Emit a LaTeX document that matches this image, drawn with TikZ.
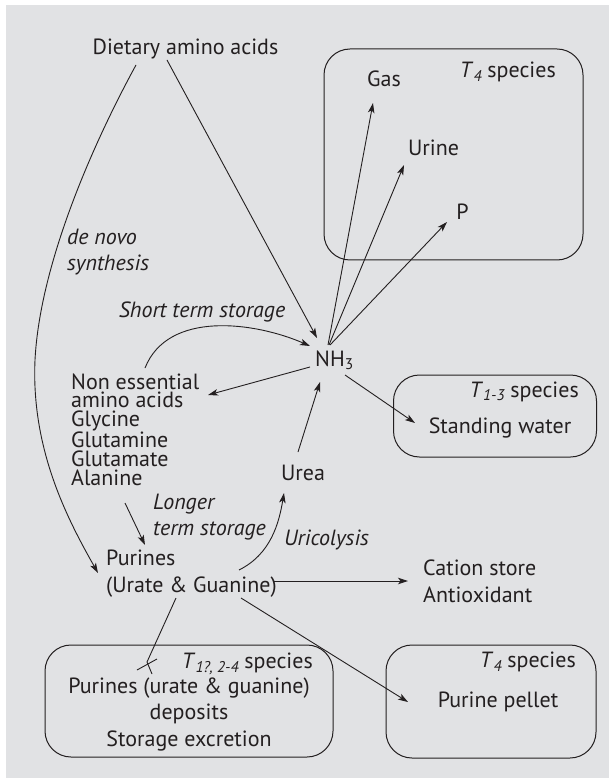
\documentclass[tikz,border=0pt]{standalone}
\usepackage{fontspec}
\setmainfont{PT Sans}
\usetikzlibrary{arrows.meta,calc}
\definecolor{bg}{RGB}{225,226,228}
\definecolor{ink}{RGB}{35,31,32}
\newcommand\Tsub[1]{\textit{T}\raisebox{-0.35ex}{\fontsize{15.5}{15.5}\selectfont\itshape #1}}
\newcommand\subthree{\raisebox{-0.35ex}{\fontsize{15.5}{15.5}\selectfont 3}}
\begin{document}
\begin{tikzpicture}[x=1pt,y=-1pt,
  every node/.style={inner sep=0pt, text=ink, font=\fontsize{22}{22}\selectfont},
  lbl/.style={font=\fontsize{22}{22}\selectfont\itshape},
  arr/.style={draw=ink, line width=0.9pt, -{Stealth[length=10pt,width=6.5pt,inset=2.5pt]}},
  ln/.style={draw=ink, line width=0.9pt},
  box/.style={draw=ink, line width=1pt, rounded corners=26pt},
]
\useasboundingbox (0,0) rectangle (614,783);
\fill[bg] (6,5) rectangle (609,778);

% boxes
\node[box, minimum width=259pt, minimum height=211pt] (boxA) at (453.5,154.5) {};
\node[box, minimum width=203pt, minimum height=82pt] (boxB) at (495,416) {};
\node[box, minimum width=288pt, minimum height=112pt] (boxC) at (189,701) {};
\node[box, minimum width=210pt, minimum height=113pt] (boxD) at (491,701.5) {};

% texts
\node[anchor=base] (diet) at (185.5,54.5) {Dietary amino acids};
\node[anchor=base] (gas) at (384,86.5) {Gas};
\node[anchor=base] (urine) at (433.5,155.5) {Urine};
\node[anchor=base] (pp) at (462.5,219.5) {P};
\node[anchor=base east] (t4a) at (556,77.5) {\Tsub{4} species};
\node[anchor=base west] (nh3) at (315,366) {NH\subthree};
\node[anchor=base, lbl] (short) at (202,317.5) {Short term storage};
\node[anchor=base west, lbl] (dn1) at (67,244.5) {de novo};
\node[anchor=base west, lbl] (dn2) at (67,270.5) {synthesis};
\node[anchor=north west, align=left, font=\fontsize{22}{18.7}\selectfont] (ne) at (71,372)
  {\rule{0pt}{17pt}Non essential\\amino acids\\Glycine\\Glutamine\\Glutamate\\Alanine};
\node[anchor=base east] (t13) at (579,397) {\Tsub{1-3} species};
\node[anchor=base] (water) at (500,433) {Standing water};
\node[anchor=base] (urea) at (303,480.5) {Urea};
\node[anchor=base west, lbl] (lt1) at (153,509.5) {Longer};
\node[anchor=base west, lbl] (lt2) at (153,535.5) {term storage};
\node[anchor=base, lbl] (uric) at (326.5,545.5) {Uricolysis};
\node[anchor=base west] (pur1) at (106,565.5) {Purines};
\node[anchor=base west] (pur2) at (106,592.5) {(Urate \& Guanine)};
\node[anchor=base west] (cat1) at (423,575.5) {Cation store};
\node[anchor=base west] (cat2) at (423,602.5) {Antioxidant};
\node[anchor=base east] (t124) at (313,668.5) {\Tsub{1?, 2-4} species};
\node[anchor=base] (dep1) at (189,693.5) {Purines (urate \& guanine)};
\node[anchor=base] (dep2) at (189,719.5) {deposits};
\node[anchor=base] (dep3) at (189,746.5) {Storage excretion};
\node[anchor=base east] (t4b) at (576,667.5) {\Tsub{4} species};
\node[anchor=base] (pellet) at (498,707.5) {Purine pellet};

% connectors
\draw[arr] ($(diet.base)+(-18.5,5.5)$) -- ($(nh3.base west)+(2,-28)$);
\draw[arr] ($(diet.base)+(-49.5,10.5)$) .. controls (95,140) and (40,262) .. (35,360)
   .. controls (31,450) and (68,520) .. ($(pur1.base west)+(-8,7.5)$);
\draw[arr] ($(nh3.base west)+(13,-21)$) -- ($(gas.base)+(-11,16.5)$);
\draw[arr] ($(nh3.base west)+(14,-21)$) -- ($(urine.base)+(-29.5,9.5)$);
\draw[arr] ($(nh3.base west)+(15,-21)$) -- ($(pp.base)+(-15.5,2.5)$);
\draw[arr] ($(ne.north west)+(74,-4)$) .. controls (168,310) and (255,322) .. ($(nh3.base west)+(-5,-20)$);
\draw[arr] ($(nh3.base west)+(-5,1)$) -- ($(ne.north west)+(137,23)$);
\draw[arr] ($(nh3.base west)+(30,9)$) -- ($(water.base)+(-85,-10)$);
\draw[arr] ($(urea.base)+(-5,-28.5)$) -- ($(nh3.base west)+(5,16)$);
\draw[arr] ($(ne.north west)+(54,131)$) -- ($(pur1.base west)+(39,-20.5)$);
\draw[arr] ($(pur1.base west)+(133,4.5)$) .. controls (271,554) and (279,523) .. ($(urea.base)+(-19,12.5)$);
\draw[arr] ($(pur1.base west)+(168,15.5)$) -- ($(cat1.base west)+(-15,5.5)$);
\draw[arr] ($(pur1.base west)+(135,32.5)$) -- ($(pellet.base)+(-90,-5.5)$);
\draw[ln] ($(pur1.base west)+(70,32.5)$) -- ($(dep1.base)+(-42,-31.5)$) -- ($(dep1.base)+(-37,-19.5)$);
\draw[ln] ($(dep1.base)+(-52,-23.5)$) -- ($(dep1.base)+(-32,-34.5)$);
\end{tikzpicture}
\end{document}
